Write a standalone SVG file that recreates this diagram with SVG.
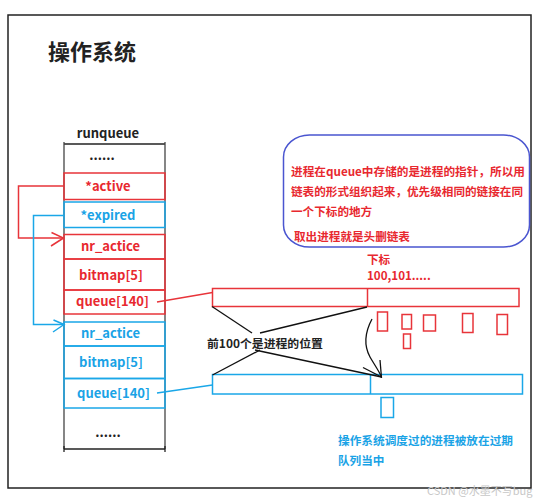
<svg xmlns="http://www.w3.org/2000/svg" width="536" height="500" viewBox="0 0 536 500">
<defs>
<style>
text{font-family:"Noto Sans CJK SC","Liberation Sans",sans-serif;font-weight:bold;}
.lbl{font-size:13px;text-anchor:middle;}
.r{fill:#e8282f;}
.b{fill:#1aa3e6;}
.k{fill:#222;}
.rs{fill:none;stroke:#e8343a;stroke-width:1.5;}
.bs{fill:none;stroke:#1aa7e8;stroke-width:1.5;}
.ks{fill:none;stroke:#111;stroke-width:1.3;}
.note{font-size:11.6px;}
</style>
</defs>
<rect x="0" y="0" width="536" height="500" fill="#fff"/>
<rect x="8" y="15" width="523" height="473" fill="none" stroke="#222" stroke-width="1.5"/>
<text x="48" y="60" font-size="22" class="k">操作系统</text>

<g id="runqueue">
<text x="108" y="138" class="lbl k">runqueue</text>
<line x1="64" y1="144" x2="165" y2="144" stroke="#222" stroke-width="1.5"/>
<line x1="64" y1="142" x2="64" y2="449" stroke="#444" stroke-width="1.3"/>
<line x1="165" y1="142" x2="165" y2="449" stroke="#444" stroke-width="1.3"/>
<line x1="64" y1="449" x2="165" y2="449" stroke="#222" stroke-width="1.5"/>
<line x1="64" y1="446" x2="64" y2="452" stroke="#222" stroke-width="1.3"/>
<line x1="165" y1="446" x2="165" y2="452" stroke="#222" stroke-width="1.3"/>
<text x="102" y="160" class="lbl k">......</text>
<text x="108" y="437" class="lbl k">......</text>
</g>
<g id="active"><rect x="64" y="173" width="101" height="26.5" class="rs"/><text x="108" y="191" class="lbl r">*active</text></g>
<g id="expired"><rect x="64" y="202" width="101" height="25.5" class="bs"/><text x="108" y="220" class="lbl b">*expired</text></g>
<g id="r-nr"><rect x="64" y="234.5" width="101" height="24.5" class="rs"/><text x="110.5" y="251" class="lbl r">nr_actice</text></g>
<g id="r-bitmap"><rect x="64" y="259" width="101" height="31" class="rs"/><text x="111" y="280" class="lbl r">bitmap[5]</text></g>
<g id="r-queue"><rect x="64" y="290" width="101" height="24" class="rs"/><text x="112.5" y="306" class="lbl r">queue[140]</text></g>
<g id="b-nr"><rect x="64" y="322" width="101" height="24" class="bs"/><text x="110.5" y="338" class="lbl b">nr_actice</text></g>
<g id="b-bitmap"><rect x="64" y="346" width="101" height="32.5" class="bs"/><text x="111" y="367" class="lbl b">bitmap[5]</text></g>
<g id="b-queue"><rect x="64" y="378.5" width="101" height="29.5" class="bs"/><text x="113.5" y="398" class="lbl b">queue[140]</text></g>

<g id="note">
<rect x="283.5" y="135" width="246" height="112" rx="26" ry="22" fill="none" stroke="#4a55d0" stroke-width="1.5"/>
<text x="291" y="176" class="note r" textLength="234" lengthAdjust="spacingAndGlyphs">进程在queue中存储的是进程的指针，所以用</text>
<text x="291" y="196" class="note r" textLength="232" lengthAdjust="spacingAndGlyphs">链表的形式组织起来，优先级相同的链接在同</text>
<text x="291" y="216" class="note r">一个下标的地方</text>
<text x="294" y="241" class="note r">取出进程就是头删链表</text>
</g>

<g id="red-array">
<rect x="212.5" y="288.5" width="306.5" height="18" class="rs"/>
<line x1="367.5" y1="288.5" x2="367.5" y2="306.5" class="rs"/>
<text x="367" y="264" class="note r">下标</text>
<text x="367" y="279.5" class="note r">100,101.....</text>
<rect x="377.5" y="312" width="10" height="19" class="rs"/>
<rect x="402" y="314.5" width="9.5" height="14.5" class="rs"/>
<rect x="403.5" y="334" width="7" height="14.5" class="rs"/>
<rect x="423.5" y="315" width="12" height="16" class="rs"/>
<rect x="462.5" y="313.5" width="10.5" height="19" class="rs"/>
<rect x="497" y="314.5" width="10.5" height="20" class="rs"/>
</g>

<g id="blue-array">
<rect x="212.5" y="374.5" width="310" height="19.5" class="bs"/>
<line x1="370.5" y1="374.5" x2="370.5" y2="394" class="bs"/>
<rect x="381" y="397.5" width="12.5" height="20" class="bs"/>
<text x="338" y="445" class="note b" textLength="175" lengthAdjust="spacingAndGlyphs">操作系统调度过的进程被放在过期</text>
<text x="338" y="465" class="note b">队列当中</text>
</g>

<text x="207" y="348" class="note k" textLength="116" lengthAdjust="spacingAndGlyphs">前100个是进程的位置</text>

<g id="connectors">
<polyline points="64,186 18.5,186 18.5,238 63,238" class="rs"/>
<polyline points="51.5,232.5 63.5,238 51,246" class="rs"/>
<polyline points="64,215.5 33.5,215.5 33.5,324.5 63.5,324.5" class="bs"/>
<polyline points="53.5,320 64,324.5 53,332" class="bs"/>
<line x1="157" y1="302" x2="212.5" y2="292.5" class="rs"/>
<line x1="157" y1="393" x2="212.5" y2="385" class="bs"/>
<line x1="212" y1="306.5" x2="252" y2="333" class="ks"/>
<line x1="367" y1="307" x2="260" y2="333" class="ks"/>
<line x1="260" y1="350" x2="212.5" y2="375" class="ks"/>
<line x1="255" y1="350" x2="381.5" y2="377" class="ks"/>
<path d="M372,319 C364,334 364,346 370,357 C374,364 379,371 381.5,377" class="ks"/>
<line x1="363" y1="367.5" x2="381.5" y2="377" class="ks"/>
<line x1="380" y1="360" x2="381.5" y2="378" class="ks"/>
</g>
<text x="427" y="495" font-size="11" fill="#c8c8c8" style="font-weight:normal">CSDN @水墨不写bug</text>
</svg>
